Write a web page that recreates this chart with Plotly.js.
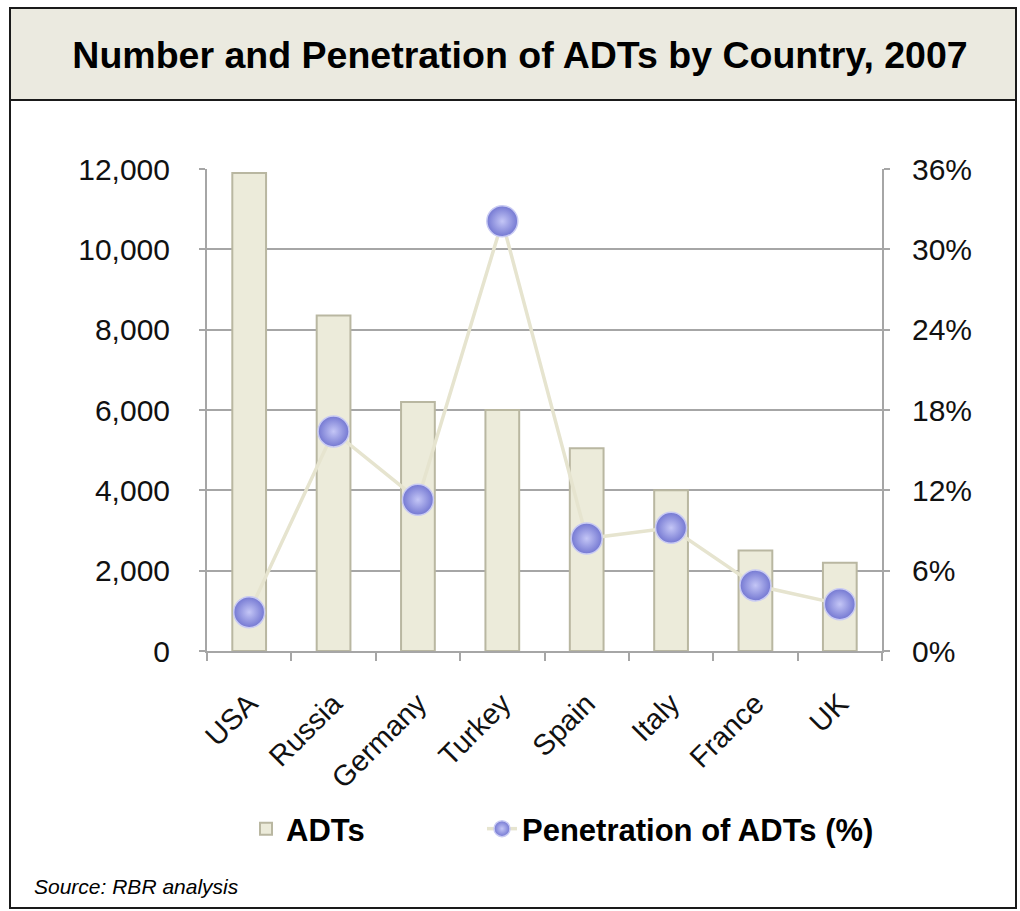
<!DOCTYPE html>
<html>
<head>
<meta charset="utf-8">
<script src="https://cdn.plot.ly/plotly-3.0.1.min.js"></script>
<style>
  html, body { margin: 0; padding: 0; background: #ffffff; }
  #chart { width: 1020px; height: 911px; }
</style>
</head>
<body>
<div id="chart"></div>
<script>
// Countries and their values for 2007
const countries = ["USA", "Russia", "Germany", "Turkey", "Spain", "Italy", "France", "UK"];
const adts = [11900, 8350, 6200, 6000, 5050, 4000, 2500, 2200];
const penetrationPct = [2.9, 16.4, 11.3, 32.1, 8.4, 9.2, 4.9, 3.5];

const leftTicks = [0, 2000, 4000, 6000, 8000, 10000, 12000];
const rightTicks = [0, 6, 12, 18, 24, 30, 36];

// Plot-area geometry in pixels
const FIG_W = 1020, FIG_H = 911;
const M = { l: 207, r: 138, t: 169, b: 260 };
const PW = FIG_W - M.l - M.r;
const PH = FIG_H - M.t - M.b;
const px = v => (v - M.l) / PW;
const py = v => (FIG_H - M.b - v) / PH;

const FONT = "Liberation Sans, Arial, Helvetica, sans-serif";
const GRID = "#a6a6a6";

const barTrace = {
  type: "bar",
  name: "ADTs",
  x: countries,
  y: adts,
  yaxis: "y",
  legend: "legend",
  marker: {
    color: "#ecebda",
    line: { color: "#b9b7a1", width: 2 }
  },
  hoverinfo: "x+y"
};

const lineTrace = {
  type: "scatter",
  mode: "lines+markers",
  name: "Penetration of ADTs (%)",
  x: countries,
  y: penetrationPct,
  yaxis: "y2",
  legend: "legend2",
  line: { color: "#e6e4cf", width: 3.5 },
  marker: {
    size: 31,
    color: "#7478d2",
    gradient: { type: "radial", color: "#c4c6f6" },
    line: { color: "#c9cbf3", width: 1.5 }
  },
  hoverinfo: "x+y"
};

const legendFont = { family: FONT, size: 31, weight: "bold", color: "#000000" };

const layout = {
  width: FIG_W,
  height: FIG_H,
  margin: M,
  paper_bgcolor: "#ffffff",
  plot_bgcolor: "rgba(0,0,0,0)",
  font: { family: FONT, color: "#111111" },
  title: {
    text: "Number and Penetration of ADTs by Country, 2007",
    font: { family: FONT, size: 37.5, weight: "bold", color: "#000000" },
    xref: "paper",
    x: px(520),
    xanchor: "center",
    yref: "container",
    y: 1 - 55 / FIG_H,
    yanchor: "middle"
  },
  bargap: 0.6,
  showlegend: true,
  legend: {
    orientation: "h",
    x: px(246),
    xanchor: "left",
    y: py(829),
    yanchor: "middle",
    font: legendFont,
    bgcolor: "rgba(0,0,0,0)"
  },
  legend2: {
    orientation: "h",
    x: px(482),
    xanchor: "left",
    y: py(829),
    yanchor: "middle",
    font: legendFont,
    bgcolor: "rgba(0,0,0,0)"
  },
  xaxis: {
    type: "category",
    categoryorder: "array",
    categoryarray: countries,
    range: [-0.5, countries.length - 0.5],
    showline: true,
    linecolor: GRID,
    linewidth: 2,
    ticks: "outside",
    tickson: "boundaries",
    ticklen: 8,
    tickwidth: 2,
    tickcolor: GRID,
    tickangle: -45,
    ticklabelstandoff: 22,
    tickfont: { family: FONT, size: 29, color: "#111111" },
    showgrid: false,
    fixedrange: true
  },
  yaxis: {
    range: [0, 12000],
    tickvals: leftTicks,
    ticktext: leftTicks.map(v => v.toLocaleString("en-US")),
    showline: true,
    linecolor: GRID,
    linewidth: 2,
    ticks: "outside",
    ticklen: 6,
    tickwidth: 2,
    tickcolor: GRID,
    ticklabelstandoff: 23,
    tickfont: { family: FONT, size: 30, color: "#111111" },
    showgrid: true,
    gridcolor: GRID,
    gridwidth: 2,
    zeroline: false,
    fixedrange: true
  },
  yaxis2: {
    overlaying: "y",
    side: "right",
    range: [0, 36],
    tickvals: rightTicks,
    ticktext: rightTicks.map(v => v + "%"),
    showline: true,
    linecolor: GRID,
    linewidth: 2,
    ticks: "outside",
    ticklen: 6,
    tickwidth: 2,
    tickcolor: GRID,
    ticklabelstandoff: 16,
    tickfont: { family: FONT, size: 30, color: "#111111" },
    showgrid: false,
    zeroline: false,
    fixedrange: true
  },
  shapes: [
    // heading band
    {
      type: "rect", xref: "paper", yref: "paper", layer: "below",
      x0: px(10), x1: px(1016), y0: py(100), y1: py(8),
      fillcolor: "#ebeae0", line: { color: "#1a1a1a", width: 2 }
    },
    // outer frame below the heading
    {
      type: "rect", xref: "paper", yref: "paper", layer: "below",
      x0: px(10), x1: px(1016), y0: py(908), y1: py(100),
      fillcolor: "rgba(0,0,0,0)", line: { color: "#1a1a1a", width: 2 }
    }
  ],
  annotations: [
    {
      text: "Source: RBR analysis",
      xref: "paper", yref: "paper",
      x: px(32), y: py(886),
      xanchor: "left", yanchor: "middle",
      showarrow: false,
      font: { family: FONT, size: 21, style: "italic", color: "#000000" }
    }
  ]
};

Plotly.newPlot("chart", [barTrace, lineTrace], layout, { displayModeBar: false, staticPlot: true });
</script>
</body>
</html>
